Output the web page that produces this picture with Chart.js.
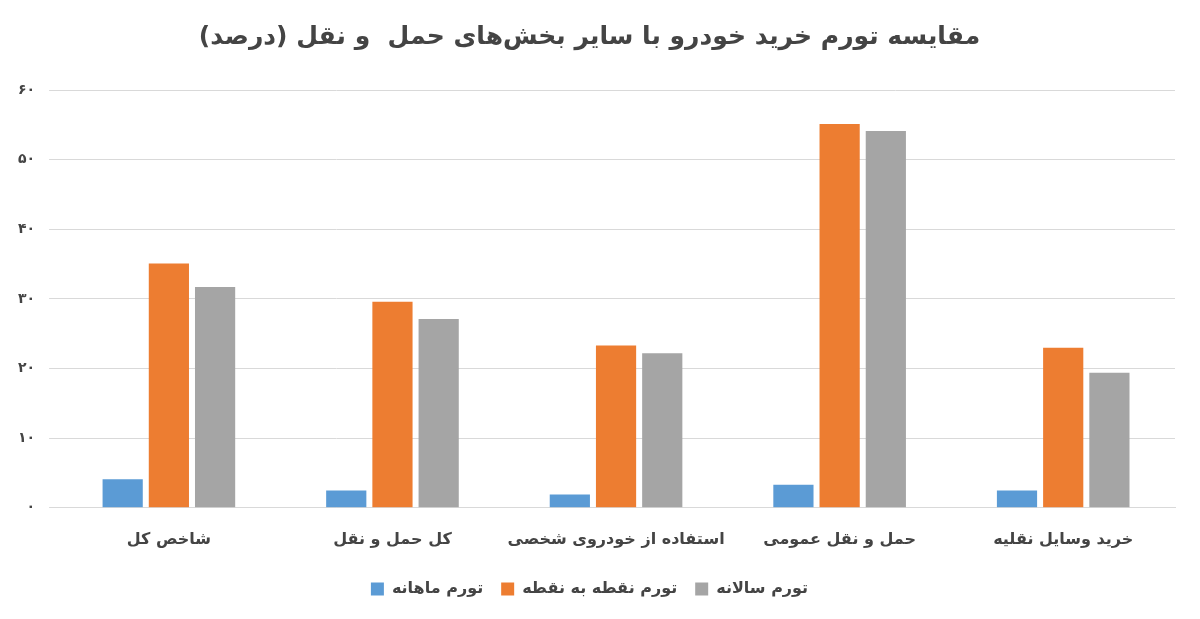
<!DOCTYPE html>
<html><head><meta charset="utf-8">
<script src="https://cdn.jsdelivr.net/npm/chart.js@4"></script>
<style>html,body{margin:0;background:#fff}#wrap{width:1200px;height:619px}</style>
</head><body><div id="wrap"><canvas id="c"></canvas></div>
<script>
const categories = ['شاخص کل','کل حمل و نقل','استفاده از خودروی شخصی','حمل و نقل عمومی','خرید وسایل نقلیه'];
const monthly = [4.1, 2.5, 1.9, 3.3, 2.5];
const pointToPoint = [35.1, 29.6, 23.3, 55.1, 23.0];
const annual = [31.7, 27.1, 22.2, 54.1, 19.4];
const seriesNames = ['تورم ماهانه','تورم نقطه به نقطه','تورم سالانه'];
const fa = n => String(n).replace(/\d/g, d => '۰۱۲۳۴۵۶۷۸۹'[d]);

const font = 'DejaVu Sans';
new Chart(document.getElementById('c'), {
  type: 'bar',
  data: { labels: categories, datasets: [
    { label: seriesNames[0], data: monthly, backgroundColor: '#5b9bd5' },
    { label: seriesNames[1], data: pointToPoint, backgroundColor: '#ed7d31' },
    { label: seriesNames[2], data: annual, backgroundColor: '#a5a5a5' }
  ]},
  options: {
    responsive: true, maintainAspectRatio: false, animation: false,
    layout: { padding: { left: 4, right: 25, top: 10, bottom: 12 } },
    datasets: { bar: { categoryPercentage: 0.62, barPercentage: 0.87 } },
    plugins: {
      title: { display: true, text: 'مقایسه تورم خرید خودرو با سایر بخش‌های حمل  و نقل (درصد)',
        color: '#444', font: { family: font, size: 25, weight: 'bold' }, padding: { top: 12, bottom: 38 } },
      legend: { position: 'bottom', labels: { color: '#444', boxWidth: 13, boxHeight: 13, padding: 18,
        font: { family: font, size: 16, weight: 'bold' } } },
      tooltip: { enabled: false }
    },
    scales: {
      x: { grid: { display: false }, border: { color: '#d9d9d9' },
        ticks: { color: '#444', padding: 14, maxRotation: 0, minRotation: 0, autoSkip: false,
          font: { family: font, size: 16, weight: 'bold' } } },
      y: { min: 0, max: 60, grid: { color: '#d9d9d9' }, border: { display: false },
        ticks: { stepSize: 10, color: '#444', padding: 14, callback: v => fa(v),
          font: { family: font, size: 14, weight: 'bold' } } }
    }
  }
});
</script></body></html>
